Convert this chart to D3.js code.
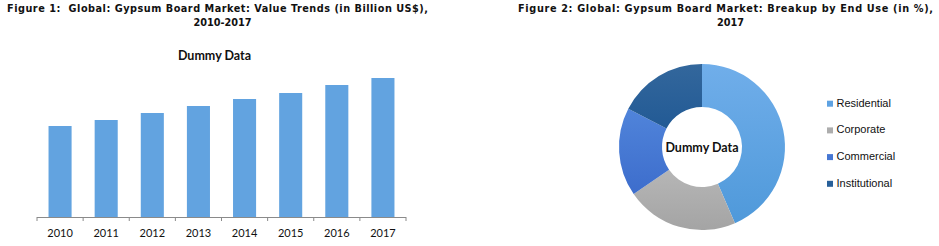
<!DOCTYPE html>
<html><head><meta charset="utf-8">
<script src="https://cdn.jsdelivr.net/npm/d3@7"></script>
<style>body{margin:0;background:#fff}svg{display:block}</style>
</head><body>
<svg id="c" width="939" height="246"></svg>
<script>
const years = ["2010","2011","2012","2013","2014","2015","2016","2017"];
const values = [9.1, 9.7, 10.4, 11.1, 11.8, 12.4, 13.2, 13.9];
const segments = ["Residential","Corporate","Commercial","Institutional"];
const shares = [43.5, 21.9, 17.2, 17.4];
const title1 = ["Figure 1:  Global: Gypsum Board Market: Value Trends (in Billion US$),", "2010-2017"];
const title2 = ["Figure 2: Global: Gypsum Board Market: Breakup by End Use (in %),", "2017"];
const centerLabel = "Dummy Data";

const svg = d3.select("#c");
const defs = svg.append("defs");
const segColors = [["#70aeea","#4f99da"],["#b6b6b6","#a4a4a4"],["#5084da","#3d6dcc"],["#33679c","#225a95"]];
segColors.forEach((c,i)=>{
  const g = defs.append("linearGradient").attr("id","g"+i).attr("x1",0).attr("y1",0).attr("x2",0).attr("y2",1);
  g.append("stop").attr("offset","0%").attr("stop-color",c[0]);
  g.append("stop").attr("offset","100%").attr("stop-color",c[1]);
});

const titleFont = "DejaVu Sans Condensed";
function title(lines, cx, w) {
  const t = svg.append("text").attr("font-family",titleFont).attr("font-weight","bold")
    .attr("font-size",10).attr("fill","#111").attr("text-anchor","middle").style("white-space","pre");
  const a = t.append("tspan").attr("x",cx).attr("y",12.3).text(lines[0]);
  const b = t.append("tspan").attr("x",cx+5).attr("y",25.5).text(lines[1]);
  const m = a.node().getComputedTextLength();
  const fs = Math.min(10.8, 10*w/m);
  t.attr("font-size", fs);
  a.attr("textLength", w).attr("lengthAdjust","spacing");
}
title(title1, 217.5, 421);
title(title2, 725.5, 415);

// Bar chart
const x = d3.scaleBand().domain(years).range([37,406]).paddingInner(0.5).paddingOuter(0.25);
const y = d3.scaleLinear().domain([0,15]).range([217,67]);
svg.append("text").attr("x",214.5).attr("y",60).attr("text-anchor","middle")
  .attr("font-family","Lato").attr("font-weight","bold").attr("font-size",12.5).attr("fill","#111").text(centerLabel);
svg.append("g").selectAll("rect").data(values).join("rect")
  .attr("x",(d,i)=>x(years[i])).attr("width",x.bandwidth())
  .attr("y",d=>y(d)).attr("height",d=>y(0)-y(d)).attr("fill","#62a3e0");
const ax = svg.append("g").attr("transform","translate(0,217)")
  .call(d3.axisBottom(x).tickSize(0).tickPadding(12));
ax.select(".domain").attr("stroke","#8a8a8a").attr("d","M37,0.5H406");
ax.selectAll("text").attr("font-family","Lato").attr("font-size",11).attr("fill","#111");
const bounds = years.map(d=>x(d)-x.step()*x.paddingInner()/2).concat([406]);
bounds[0]=37;
ax.selectAll(".bnd").data(bounds).join("line").attr("class","bnd")
  .attr("x1",d=>d).attr("x2",d=>d).attr("y1",0).attr("y2",4).attr("stroke","#8a8a8a");

// Donut
const cx = 702, cy = 147, R = 83, r = 40;
const pie = d3.pie().sort(null).value(d=>d);
const arc = d3.arc().innerRadius(r).outerRadius(R);
const pg = svg.append("g").attr("transform",`translate(${cx},${cy})`);
pg.selectAll("path").data(pie(shares)).join("path")
  .attr("d",arc).attr("fill",(d,i)=>`url(#g${i})`).attr("stroke","none");
svg.append("text").attr("x",cx).attr("y",151.5).attr("text-anchor","middle")
  .attr("font-family","Lato").attr("font-weight","bold").attr("font-size",12.5).attr("fill","#111").text(centerLabel);

// Legend
const legColors = ["#5ea2e2","#adadad","#4677d3","#28609a"];
const lg = svg.append("g").selectAll("g").data(segments).join("g")
  .attr("transform",(d,i)=>`translate(827,${106.7+i*26.7})`);
lg.append("rect").attr("x",0).attr("y",-6).attr("width",6).attr("height",6).attr("fill",(d,i)=>legColors[i]);
lg.append("text").attr("x",9.5).attr("y",0).attr("font-family","Liberation Sans").attr("font-size",11)
  .attr("fill","#111").text(d=>d);
</script>
</body></html>
